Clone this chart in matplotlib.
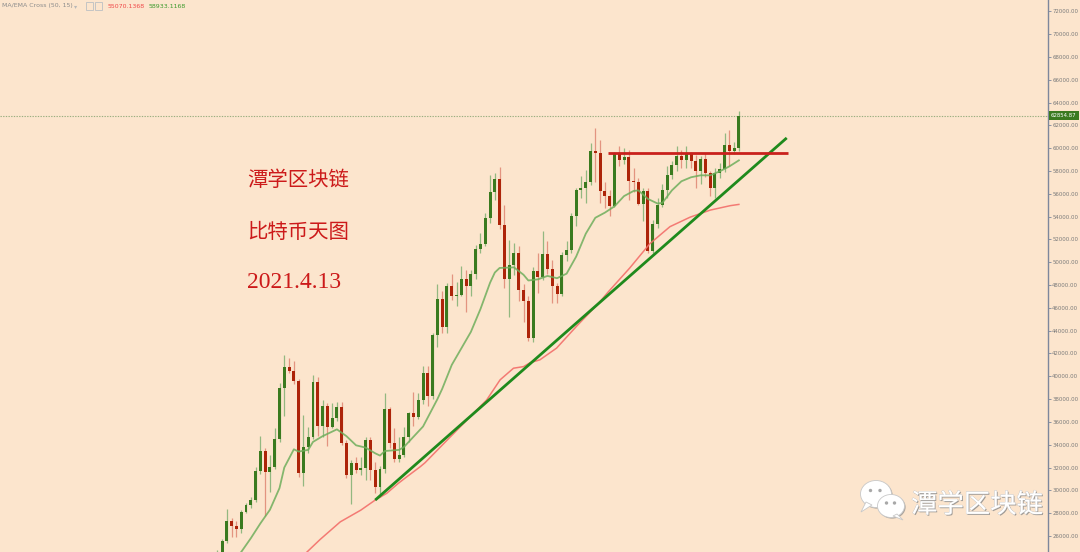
import matplotlib
matplotlib.use('Agg')
import matplotlib.pyplot as plt
from matplotlib.patches import Ellipse, Polygon, Rectangle, Circle
import matplotlib.patheffects as pe
import numpy as np

# ---------------- data ----------------
opens = [23700, 24500, 25570, 27330, 26870, 26580, 28120, 28710, 29150, 31720,
         33480, 31630, 32020, 34500, 38950, 40800, 40500, 39600, 31500, 33830,
         34650, 39530, 35600, 37430, 35580, 36370, 37340, 34130, 31340, 32420,
         31780, 31930, 34420, 31780, 30260, 31840, 37110, 34180, 32750, 33100,
         34650, 36760, 36460, 37930, 40300, 38300, 43650, 46770, 44360, 47940,
         47000, 47150, 48530, 47940, 48960, 51160, 51600, 53880, 56160, 57330,
         53230, 48560, 49780, 50810, 47590, 46560, 43350, 49190, 48700, 50750,
         49430, 47880, 47240, 50600, 51040, 54080, 56370, 56500, 57010, 59730,
         59590, 56280, 55840, 54960, 59500, 59000, 59240, 57100, 57000, 55110,
         56220, 50950, 53355, 55000, 56370, 57680, 58560, 59350, 59000, 59500,
         58850, 57970, 59060, 57830, 56520, 57830, 58210, 60260, 59790, 60030]
highs = [24800, 25700, 28390, 27540, 27300, 28300, 28910, 29440, 32020, 34770,
         33690, 33100, 35440, 39390, 41900, 41600, 41300, 39800, 36610, 35530,
         40120, 39970, 37930, 37700, 37640, 37780, 37780, 34400, 32660, 32950,
         32950, 34650, 34650, 32500, 32100, 38520, 37340, 35500, 34700, 35580,
         36900, 38660, 38520, 40900, 40900, 43800, 48110, 47440, 48170, 48990,
         48300, 49630, 49300, 49300, 51500, 52560, 54300, 57680, 57830, 58360,
         55050, 51980, 51700, 51400, 48100, 47000, 49600, 50810, 52700, 51830,
         50200, 48200, 50900, 51830, 54300, 56520, 57600, 58120, 60470, 61780,
         60760, 57000, 56300, 59700, 60170, 60000, 59800, 58300, 57390, 56520,
         56520, 53700, 55600, 56900, 58410, 58900, 60170, 59800, 60170, 59700,
         59400, 59300, 59590, 58000, 58300, 58700, 61350, 61630, 60500, 63300]
lows = [23400, 24300, 25400, 25870, 25900, 26280, 28000, 28420, 29000, 31400,
        27740, 29880, 31900, 34270, 36500, 40300, 39300, 31200, 30400, 33250,
        34500, 34800, 34700, 33890, 35500, 36100, 33980, 31050, 28800, 31490,
        31340, 30900, 30900, 29740, 29440, 31500, 33690, 32510, 32500, 32900,
        34200, 35600, 36300, 37600, 37400, 38000, 42610, 43780, 43780, 46710,
        46180, 47000, 45680, 47000, 48500, 50800, 51400, 53440, 55500, 52900,
        47740, 45240, 48900, 46600, 44800, 43100, 43050, 47300, 48460, 49000,
        46420, 46420, 47000, 50100, 50800, 53140, 55600, 55200, 56800, 57000,
        55200, 54760, 54020, 54800, 58410, 58600, 55490, 56200, 55050, 53580,
        50810, 50800, 53000, 54800, 55600, 57300, 57970, 58300, 58300, 58300,
        56520, 56900, 57450, 55780, 55640, 57400, 57900, 58410, 59500, 59730]
closes = [24500, 25550, 27330, 26870, 26580, 28120, 28710, 29150, 31720, 33480,
          31630, 32020, 34500, 38950, 40800, 40500, 39600, 31500, 33830, 34650,
          39530, 35600, 37430, 35580, 36370, 37340, 34130, 31340, 32420, 31780,
          31930, 34420, 31780, 30260, 31840, 37110, 34180, 32750, 33100, 34650,
          36760, 36460, 37930, 40300, 38300, 43650, 46770, 44360, 47940, 47000,
          47150, 48530, 47940, 48960, 51160, 51600, 53880, 56160, 57330, 53230,
          48560, 49780, 50810, 47590, 46560, 43350, 49190, 48700, 50750, 49430,
          47880, 47240, 50600, 51040, 54080, 56370, 56500, 57010, 59730, 59590,
          56280, 55840, 54960, 59500, 59000, 59240, 57100, 57000, 55110, 56220,
          50950, 53355, 55000, 56370, 57680, 58560, 59350, 59000, 59500, 58850,
          57970, 59060, 57830, 56520, 57830, 58210, 60260, 59790, 60030, 62854.87]

# EMA(15) line (bar index, price)
ema_bar = [3, 5, 7, 9, 11, 13, 14, 16, 17, 19, 20, 22, 24, 25, 27, 29, 31, 33, 34,
           35, 38, 39, 41, 43, 46, 47, 49, 53, 55, 57, 58, 59, 62, 64, 65, 67, 69,
           71, 73, 75, 77, 79, 81, 83, 85, 87, 88, 90, 92, 93, 95, 97, 99, 101,
           103, 105, 107, 109]
ema_val = [23700, 24600, 25800, 27100, 28300, 30200, 32000, 33600, 33400, 33550,
           34250, 34750, 35150, 35350, 34750, 33950, 33750, 33250, 33050, 33450,
           33550, 33800, 34700, 35600, 38000, 38900, 41000, 43900, 45900, 48200,
           49100, 49500, 49550, 48900, 48400, 48500, 48800, 48600, 49000, 50500,
           52500, 53900, 54350, 54900, 55800, 56250, 56300, 55550, 55150, 55200,
           56300, 57100, 57450, 57620, 57620, 57970, 58400, 58933.1168]

# MA(50) line (bar index, price)
ma_bar = [18, 19, 21.5, 25.7, 30, 33, 35.4, 37.8, 39.6, 42.4, 43.4, 49.7, 56.3,
          59.1, 61.9, 64, 65.4, 67.4, 70.9, 75.1, 77.5, 80, 81.7, 86.2, 90.4,
          94.6, 98.8, 103, 107.2, 109]
ma_val = [24300, 24700, 25700, 27240, 28270, 29150, 29740, 30610, 31190, 32070,
          32420, 35120, 37930, 39690, 40710, 40850, 41200, 41440, 42470, 44400,
          45450, 46560, 47400, 49500, 51630, 53120, 53950, 54570, 54960, 55070.1368]

trend_bars = [33, 119]
trend_prices = [29150, 60900]
resistance_price = 59590
resistance_bars = [81.6, 119.3]

y_ticks = list(range(26000, 72001, 2000))
last_price = 62854.87
indicator_name = 'MA/EMA Cross (50, 15)'
ma_last = 55070.1368
ema_last = 58933.1168
title_lines = ['潭学区块链', '比特币天图', '2021.4.13']
watermark = '潭学区块链'

# ---------------- styling ----------------
BG = '#fce5cd'
GREEN_BODY = '#3a7a1f'
RED_BODY = '#ad2409'
GREEN_WICK = '#93b880'
RED_WICK = '#e39480'
CJK = ['Noto Sans CJK SC', 'DejaVu Sans']

fig = plt.figure(figsize=(10.8, 5.52), dpi=100, facecolor=BG)
ax = fig.add_axes([0, 0, 1048 / 1080, 1])
ax.set_facecolor(BG)

idx = np.arange(len(opens))
o = np.array(opens, float)
c = np.array(closes, float)
h = np.array(highs, float)
l = np.array(lows, float)
up = c >= o

wick_cols = [GREEN_WICK if u else RED_WICK for u in up]
body_cols = [GREEN_BODY if u else RED_BODY for u in up]
ax.vlines(idx, l, h, colors=wick_cols, linewidth=0.9, zorder=2)
bottoms = np.minimum(o, c)
heights = np.maximum(np.abs(c - o), 70)
ax.bar(idx, heights, bottom=bottoms, width=0.62, color=body_cols,
       linewidth=0, zorder=3)

ax.plot(ma_bar, ma_val, color='#f36f6a', lw=1.1, alpha=0.9, zorder=4)
ax.plot(ema_bar, ema_val, color='#6fae5c', lw=1.3, alpha=0.85, zorder=4)

ax.plot(trend_bars, trend_prices, color='#1f8a1c', lw=2.0, zorder=5,
        solid_capstyle='butt')
ax.plot(resistance_bars, [resistance_price] * 2, color='#c9211c', lw=2.0,
        zorder=5, solid_capstyle='butt')

ax.axhline(last_price, color='#9aae80', ls=(0, (1.2, 1.2)), lw=0.8, zorder=1)

ax.set_xlim(-45.41, 173.6)
ax.set_ylim(24597, 72991)

for s in ['top', 'left', 'bottom']:
    ax.spines[s].set_visible(False)
ax.spines['right'].set_color('#7d879c')
ax.spines['right'].set_linewidth(1.0)
ax.set_xticks([])
ax.yaxis.tick_right()
ax.set_yticks(y_ticks)
ax.set_yticklabels([f'{v:.2f}' for v in y_ticks])
ax.tick_params(axis='y', direction='out', length=2, width=0.6,
               colors='#7d879c', labelcolor='#7a7a7a', labelsize=3.9, pad=1.0)

ax.annotate(f'{last_price:.2f}', xy=(1.0, last_price),
            xycoords=('axes fraction', 'data'), xytext=(2.2, 0),
            textcoords='offset points', ha='left', va='center',
            fontsize=3.9, color='white', annotation_clip=False,
            bbox=dict(boxstyle='square,pad=0.4', fc='#3b7a20', ec='none'))

# ---------------- overlay in pixel coordinates ----------------
ov = fig.add_axes([0, 0, 1, 1])
ov.set_xlim(0, 1080)
ov.set_ylim(552, 0)
ov.axis('off')

red_txt = '#cc1a1a'
ov.text(247, 180, title_lines[0], fontsize=14.7, color=red_txt,
        family=CJK, va='center', ha='left')
ov.text(247, 232, title_lines[1], fontsize=14.7, color=red_txt,
        family=CJK, va='center', ha='left')
ov.text(247, 283, title_lines[2], fontsize=17, color=red_txt,
        family=['Liberation Serif', 'DejaVu Serif'], va='center', ha='left')

# indicator legend
ov.text(2, 6, indicator_name, fontsize=4.5, color='#8c8c8c', va='center', ha='left')
ov.text(74, 6.5, '▾', fontsize=4.5, color='#b8b8b8', va='center', ha='left')
ov.add_patch(Rectangle((85.5, 2), 7, 8, fc='none', ec='#c4c4c4', lw=0.7))
ov.add_patch(Rectangle((95, 2), 7, 8, fc='none', ec='#c4c4c4', lw=0.7))
ov.text(108, 6, f'{ma_last:.4f}', fontsize=4.5, color='#f04848', va='center', ha='left')
ov.text(149, 6, f'{ema_last:.4f}', fontsize=4.5, color='#3c9a2c', va='center', ha='left')

# watermark (WeChat-like logo + name)
shadow = [pe.withSimplePatchShadow(offset=(0.8, -0.8), shadow_rgbFace='#8a8a8a', alpha=0.7)]
big = Ellipse((876, 494), 31, 27, fc='white', ec='#c8c8c8', lw=0.6, zorder=10)
big.set_path_effects(shadow)
ov.add_patch(big)
tail1 = Polygon([(866, 502), (861, 512), (872, 505)], closed=True,
                fc='white', ec='#c8c8c8', lw=0.6, zorder=10)
ov.add_patch(tail1)
small = Ellipse((891, 506), 27, 23, fc='white', ec='#c8c8c8', lw=0.6, zorder=11)
small.set_path_effects(shadow)
ov.add_patch(small)
tail2 = Polygon([(897, 514), (903, 520), (893, 516)], closed=True,
                fc='white', ec='#c8c8c8', lw=0.6, zorder=11)
ov.add_patch(tail2)
for (ex, ey, z) in [(870.5, 490.5, 10.5), (880, 490.5, 10.5),
                    (886.5, 503, 12), (894.5, 503, 12)]:
    ov.add_patch(Circle((ex, ey), 1.7, fc='#a8a8a8', ec='none', zorder=z))

ov.text(911, 505, watermark, fontsize=19, color='white', family=CJK,
        va='center', ha='left', zorder=12,
        path_effects=[pe.withSimplePatchShadow(offset=(0.8, -0.8),
                                               shadow_rgbFace='#8a8a8a', alpha=0.8),
                      pe.Stroke(linewidth=0.5, foreground='#c0c0c0'),
                      pe.Normal()])

fig.savefig('out.png', dpi=100, facecolor=BG)
